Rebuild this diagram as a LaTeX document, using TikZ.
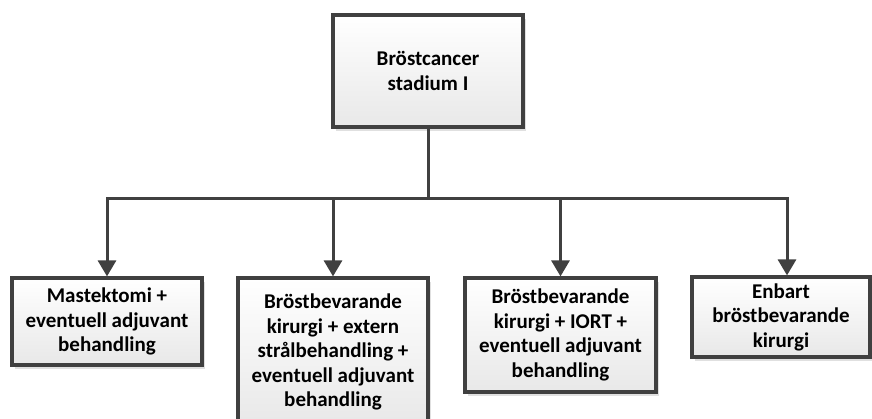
\documentclass[tikz,border=0pt]{standalone}
\usepackage{fontspec}
\setmainfont{Carlito}
\usetikzlibrary{arrows.meta,shadows}
\definecolor{edge}{HTML}{404040}
\tikzset{
  box/.style={draw=edge, line width=3.2pt, rectangle, top color=white, bottom color=black!9,
    drop shadow={shadow xshift=3pt, shadow yshift=-4pt, fill=black, opacity=0.12},
    align=center, inner sep=0pt,
    font=\fontsize{21pt}{24.5pt}\selectfont\bfseries, text=black},
  conn/.style={draw=edge, line width=3pt},
  arr/.style={conn, -{Triangle[width=18pt,length=16pt]}}
}
\begin{document}
\begin{tikzpicture}[x=1pt,y=1pt]
\useasboundingbox (0,0) rectangle (872,418);
\clip (0,0) rectangle (872,418);
\node[box, minimum width=190pt, minimum height=112pt] (top) at (428,347) {Bröstcancer\\stadium I};
\node[box, minimum width=190pt, minimum height=87pt] (b1) at (107,96.5) {Mastektomi +\\eventuell adjuvant\\behandling};
\node[box, minimum width=190pt, minimum height=148pt] (b2) at (333,66) {Bröstbevarande\\kirurgi + extern\\strålbehandling +\\eventuell adjuvant\\behandling};
\node[box, minimum width=191pt, minimum height=114pt] (b3) at (560.5,83) {Bröstbevarande\\kirurgi + IORT +\\eventuell adjuvant\\behandling};
\node[box, minimum width=178pt, minimum height=80pt] (b4) at (781,101) {Enbart\\bröstbevarande\\kirurgi};
\coordinate (j) at (428,219);
\coordinate (h1) at (107,219);
\coordinate (h2) at (333,219);
\coordinate (h3) at (560.5,219);
\coordinate (h4) at (787,219);
\draw[conn] (top.south) -- (j);
\draw[conn, line cap=rect] (h1) -- (h4);
\draw[arr] (h1) -- (b1.north);
\draw[arr] (h2) -- (b2.north);
\draw[arr] (h3) -- (b3.north);
\draw[arr] (h4) -- (h4 |- b4.north);
\end{tikzpicture}
\end{document}
